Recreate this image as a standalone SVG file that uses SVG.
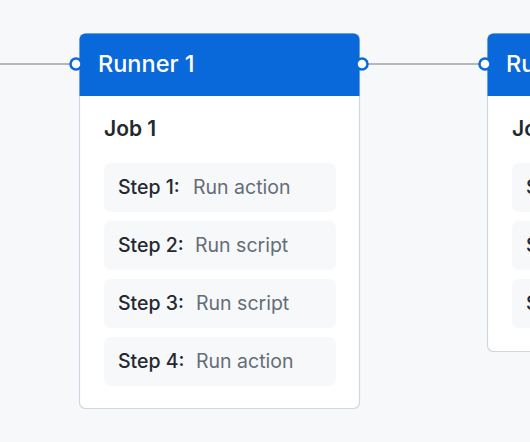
<svg xmlns="http://www.w3.org/2000/svg" width="530" height="442" viewBox="0 0 530 442">
<style>
.card{fill:#ffffff;stroke:#d0d7de;stroke-width:1.2}
.head{fill:#0969da}
.step{fill:#f6f8fa}
.title{font-family:Inter,"Noto Sans",sans-serif;font-size:23.5px;fill:#ffffff;font-weight:500}
.job{font-family:Inter,"Noto Sans",sans-serif;font-size:21px;fill:#24292f;font-weight:600}
.sl{font-family:Inter,"Noto Sans",sans-serif;font-size:19.5px;fill:#24292f;font-weight:500}
.sv{font-family:Inter,"Noto Sans",sans-serif;font-size:19.5px;fill:#656d76}
.port{fill:#ffffff;stroke:#0969da;stroke-width:2.5}
.wire{stroke:#b4b8bd;stroke-width:2;fill:none}
</style>
<rect x="0" y="0" width="530" height="442" fill="#f6f8fa"/>
<g id="connectors">
<line class="wire" x1="0" y1="64" x2="76" y2="64"/>
<line class="wire" x1="362" y1="64" x2="485" y2="64"/>
</g>
<g id="runner1">
<rect class="card" x="79.5" y="33.5" width="280" height="375" rx="6"/>
<path class="head" d="M79.5 96 V39.5 a6 6 0 0 1 6 -6 H353.5 a6 6 0 0 1 6 6 V96 Z"/>
<text class="title" x="98" y="72">Runner 1</text>
<text class="job" x="104" y="136">Job 1</text>
<rect class="step" x="104" y="163" width="232" height="49" rx="7"/>
<text class="sl" x="118" y="194">Step 1:</text><text class="sv" x="193" y="194">Run action</text>
<rect class="step" x="104" y="221" width="232" height="49" rx="7"/>
<text class="sl" x="118" y="252">Step 2:</text><text class="sv" x="195" y="252">Run script</text>
<rect class="step" x="104" y="279" width="232" height="49" rx="7"/>
<text class="sl" x="118" y="310">Step 3:</text><text class="sv" x="196" y="310">Run script</text>
<rect class="step" x="104" y="337" width="232" height="49" rx="7"/>
<text class="sl" x="118" y="368">Step 4:</text><text class="sv" x="196" y="368">Run action</text>
<circle class="port" cx="76" cy="64" r="5.5"/>
<circle class="port" cx="362" cy="64" r="5.5"/>
</g>
<g id="runner2">
<rect class="card" x="487.5" y="33.5" width="280" height="318" rx="6"/>
<path class="head" d="M487.5 96 V39.5 a6 6 0 0 1 6 -6 H761.5 a6 6 0 0 1 6 6 V96 Z"/>
<text class="title" x="506" y="72">Runner 2</text>
<text class="job" x="512" y="136">Job 2</text>
<rect class="step" x="512" y="163" width="232" height="49" rx="7"/>
<text class="sl" x="526" y="194">Step 1:</text>
<rect class="step" x="512" y="221" width="232" height="49" rx="7"/>
<text class="sl" x="526" y="252">Step 2:</text>
<rect class="step" x="512" y="279" width="232" height="49" rx="7"/>
<text class="sl" x="526" y="310">Step 3:</text>
<circle class="port" cx="485" cy="64" r="5.5"/>
</g>
</svg>
